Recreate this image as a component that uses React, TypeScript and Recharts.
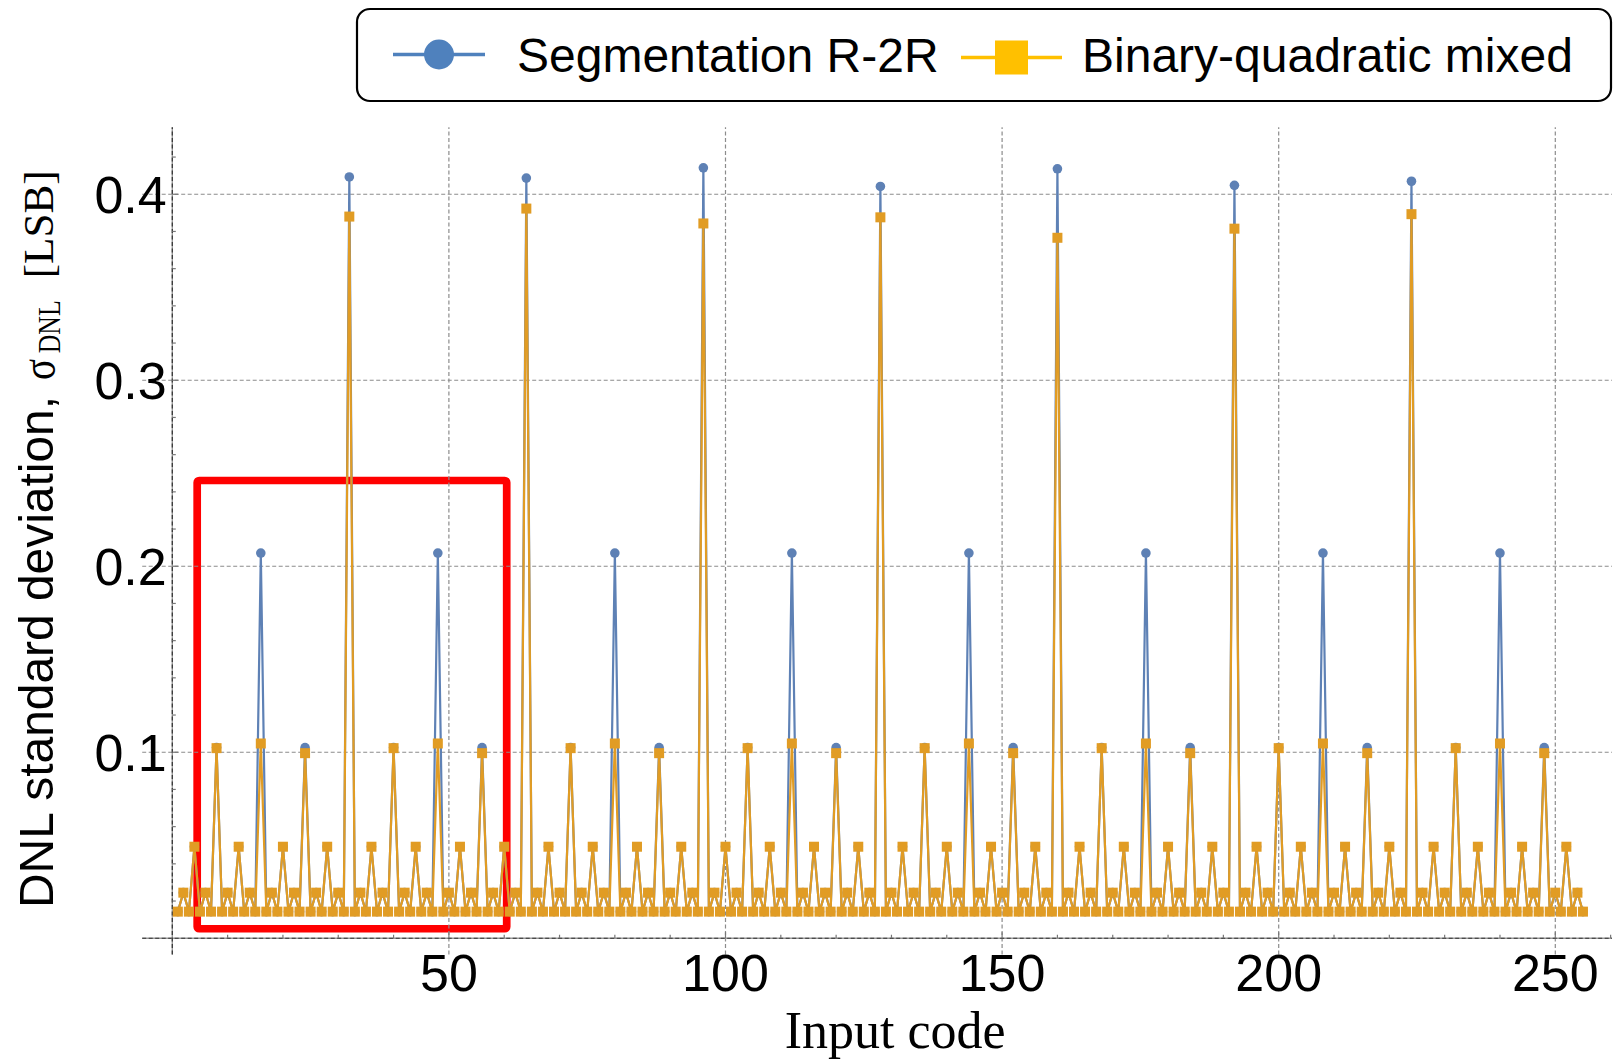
import React from 'react';
import {
    LineChart,
    Line,
    XAxis,
    YAxis,
    ReferenceLine,
    ReferenceArea,
    Legend,
} from 'recharts';

// sigma_DNL per input code 1..255
const SEGMENTATION_R2R = [
    0.0143, 0.0245, 0.0143, 0.0492, 0.0143, 0.0245, 0.0143, 0.1025, 0.0143, 0.0245, 0.0143, 0.0492, 0.0143, 0.0245, 0.0143, 0.2071,
    0.0143, 0.0245, 0.0143, 0.0492, 0.0143, 0.0245, 0.0143, 0.1025, 0.0143, 0.0245, 0.0143, 0.0492, 0.0143, 0.0245, 0.0143, 0.4093,
    0.0143, 0.0245, 0.0143, 0.0492, 0.0143, 0.0245, 0.0143, 0.1025, 0.0143, 0.0245, 0.0143, 0.0492, 0.0143, 0.0245, 0.0143, 0.2071,
    0.0143, 0.0245, 0.0143, 0.0492, 0.0143, 0.0245, 0.0143, 0.1025, 0.0143, 0.0245, 0.0143, 0.0492, 0.0143, 0.0245, 0.0143, 0.4087,
    0.0143, 0.0245, 0.0143, 0.0492, 0.0143, 0.0245, 0.0143, 0.1025, 0.0143, 0.0245, 0.0143, 0.0492, 0.0143, 0.0245, 0.0143, 0.2071,
    0.0143, 0.0245, 0.0143, 0.0492, 0.0143, 0.0245, 0.0143, 0.1025, 0.0143, 0.0245, 0.0143, 0.0492, 0.0143, 0.0245, 0.0143, 0.4142,
    0.0143, 0.0245, 0.0143, 0.0492, 0.0143, 0.0245, 0.0143, 0.1025, 0.0143, 0.0245, 0.0143, 0.0492, 0.0143, 0.0245, 0.0143, 0.2071,
    0.0143, 0.0245, 0.0143, 0.0492, 0.0143, 0.0245, 0.0143, 0.1025, 0.0143, 0.0245, 0.0143, 0.0492, 0.0143, 0.0245, 0.0143, 0.4042,
    0.0143, 0.0245, 0.0143, 0.0492, 0.0143, 0.0245, 0.0143, 0.1025, 0.0143, 0.0245, 0.0143, 0.0492, 0.0143, 0.0245, 0.0143, 0.2071,
    0.0143, 0.0245, 0.0143, 0.0492, 0.0143, 0.0245, 0.0143, 0.1025, 0.0143, 0.0245, 0.0143, 0.0492, 0.0143, 0.0245, 0.0143, 0.4137,
    0.0143, 0.0245, 0.0143, 0.0492, 0.0143, 0.0245, 0.0143, 0.1025, 0.0143, 0.0245, 0.0143, 0.0492, 0.0143, 0.0245, 0.0143, 0.2071,
    0.0143, 0.0245, 0.0143, 0.0492, 0.0143, 0.0245, 0.0143, 0.1025, 0.0143, 0.0245, 0.0143, 0.0492, 0.0143, 0.0245, 0.0143, 0.4048,
    0.0143, 0.0245, 0.0143, 0.0492, 0.0143, 0.0245, 0.0143, 0.1025, 0.0143, 0.0245, 0.0143, 0.0492, 0.0143, 0.0245, 0.0143, 0.2071,
    0.0143, 0.0245, 0.0143, 0.0492, 0.0143, 0.0245, 0.0143, 0.1025, 0.0143, 0.0245, 0.0143, 0.0492, 0.0143, 0.0245, 0.0143, 0.4070,
    0.0143, 0.0245, 0.0143, 0.0492, 0.0143, 0.0245, 0.0143, 0.1025, 0.0143, 0.0245, 0.0143, 0.0492, 0.0143, 0.0245, 0.0143, 0.2071,
    0.0143, 0.0245, 0.0143, 0.0492, 0.0143, 0.0245, 0.0143, 0.1025, 0.0143, 0.0245, 0.0143, 0.0492, 0.0143, 0.0245, 0.0143,
];

const BINARY_QUADRATIC = [
    0.0143, 0.0245, 0.0143, 0.0492, 0.0143, 0.0245, 0.0143, 0.1022, 0.0143, 0.0245, 0.0143, 0.0492, 0.0143, 0.0245, 0.0143, 0.1047,
    0.0143, 0.0245, 0.0143, 0.0492, 0.0143, 0.0245, 0.0143, 0.0995, 0.0143, 0.0245, 0.0143, 0.0492, 0.0143, 0.0245, 0.0143, 0.3880,
    0.0143, 0.0245, 0.0143, 0.0492, 0.0143, 0.0245, 0.0143, 0.1022, 0.0143, 0.0245, 0.0143, 0.0492, 0.0143, 0.0245, 0.0143, 0.1047,
    0.0143, 0.0245, 0.0143, 0.0492, 0.0143, 0.0245, 0.0143, 0.0995, 0.0143, 0.0245, 0.0143, 0.0492, 0.0143, 0.0245, 0.0143, 0.3923,
    0.0143, 0.0245, 0.0143, 0.0492, 0.0143, 0.0245, 0.0143, 0.1022, 0.0143, 0.0245, 0.0143, 0.0492, 0.0143, 0.0245, 0.0143, 0.1047,
    0.0143, 0.0245, 0.0143, 0.0492, 0.0143, 0.0245, 0.0143, 0.0995, 0.0143, 0.0245, 0.0143, 0.0492, 0.0143, 0.0245, 0.0143, 0.3843,
    0.0143, 0.0245, 0.0143, 0.0492, 0.0143, 0.0245, 0.0143, 0.1022, 0.0143, 0.0245, 0.0143, 0.0492, 0.0143, 0.0245, 0.0143, 0.1047,
    0.0143, 0.0245, 0.0143, 0.0492, 0.0143, 0.0245, 0.0143, 0.0995, 0.0143, 0.0245, 0.0143, 0.0492, 0.0143, 0.0245, 0.0143, 0.3876,
    0.0143, 0.0245, 0.0143, 0.0492, 0.0143, 0.0245, 0.0143, 0.1022, 0.0143, 0.0245, 0.0143, 0.0492, 0.0143, 0.0245, 0.0143, 0.1047,
    0.0143, 0.0245, 0.0143, 0.0492, 0.0143, 0.0245, 0.0143, 0.0995, 0.0143, 0.0245, 0.0143, 0.0492, 0.0143, 0.0245, 0.0143, 0.3766,
    0.0143, 0.0245, 0.0143, 0.0492, 0.0143, 0.0245, 0.0143, 0.1022, 0.0143, 0.0245, 0.0143, 0.0492, 0.0143, 0.0245, 0.0143, 0.1047,
    0.0143, 0.0245, 0.0143, 0.0492, 0.0143, 0.0245, 0.0143, 0.0995, 0.0143, 0.0245, 0.0143, 0.0492, 0.0143, 0.0245, 0.0143, 0.3815,
    0.0143, 0.0245, 0.0143, 0.0492, 0.0143, 0.0245, 0.0143, 0.1022, 0.0143, 0.0245, 0.0143, 0.0492, 0.0143, 0.0245, 0.0143, 0.1047,
    0.0143, 0.0245, 0.0143, 0.0492, 0.0143, 0.0245, 0.0143, 0.0995, 0.0143, 0.0245, 0.0143, 0.0492, 0.0143, 0.0245, 0.0143, 0.3893,
    0.0143, 0.0245, 0.0143, 0.0492, 0.0143, 0.0245, 0.0143, 0.1022, 0.0143, 0.0245, 0.0143, 0.0492, 0.0143, 0.0245, 0.0143, 0.1047,
    0.0143, 0.0245, 0.0143, 0.0492, 0.0143, 0.0245, 0.0143, 0.0995, 0.0143, 0.0245, 0.0143, 0.0492, 0.0143, 0.0245, 0.0143,
];

const SERIES_NAMES = ['Segmentation R-2R', 'Binary-quadratic mixed'];

const X_TICKS = [10, 20, 30, 40, 50, 60, 70, 80, 90, 100, 110, 120, 130, 140, 150, 160, 170, 180, 190, 200, 210, 220, 230, 240, 250, 260];
const X_LABELS = [50, 100, 150, 200, 250];
const Y_TICKS = [0.02, 0.04, 0.06, 0.08, 0.1, 0.12, 0.14, 0.16, 0.18, 0.2, 0.22, 0.24, 0.26, 0.28, 0.3, 0.32, 0.34, 0.36, 0.38, 0.4, 0.42];
const Y_LABELS = [0.1, 0.2, 0.3, 0.4];
const X_GRID = [50, 100, 150, 200, 250];
const Y_GRID = [0.1, 0.2, 0.3, 0.4];

// highlighted region (red box)
const HIGHLIGHT = { x1: 4.5, x2: 60.45, y1: 0.0051, y2: 0.2461 };

const X_MIN = -5.44;
const X_MAX = 260.25;
const Y_MIN = -0.0088;
const Y_MAX = 0.436;

const CHART_W = 1615;
const CHART_H = 1061;
const TOP = 127.3;
const RIGHT = 3;
const XAXIS_H = 106.4;
const YAXIS_W = 142.2;
const PLOT_W = CHART_W - YAXIS_W - RIGHT;
const PLOT_H = CHART_H - TOP - XAXIS_H;
// distance from plot edge to the zero line of each axis
const ZERO_DY = ((0 - Y_MIN) / (Y_MAX - Y_MIN)) * PLOT_H;
const ZERO_DX = ((0 - X_MIN) / (X_MAX - X_MIN)) * PLOT_W;

const BLUE = '#5E81B5';
const ORANGE = '#E19C24';
const GRID = '#8c8c8c';
const SANS = '"Liberation Sans", Arial, sans-serif';
const SERIF = '"Liberation Serif", "Times New Roman", serif';

const data = SEGMENTATION_R2R.map((v, i) => ({
    code: i + 1,
    seg: v,
    bq: BINARY_QUADRATIC[i],
}));

const XTick = (props: any) => {
    const { x, y, payload } = props;
    const y0 = y - ZERO_DY;
    const major = X_LABELS.includes(payload.value);
    return (
        <g>
            <line x1={x} x2={x} y1={y0} y2={y0 - (major ? 6 : 3.5)} stroke="#777" strokeWidth={1.2} />
            {major && (
                <text x={x} y={y0 + 52.4} textAnchor="middle" fontSize={52} fontFamily={SANS} fill="#000">
                    {payload.value}
                </text>
            )}
        </g>
    );
};

const YTick = (props: any) => {
    const { x, y, payload } = props;
    const x0 = x + ZERO_DX;
    const major = Y_LABELS.includes(payload.value);
    return (
        <g>
            <line x1={x0} x2={x0 + (major ? 6 : 3.5)} y1={y} y2={y} stroke="#777" strokeWidth={1.2} />
            {major && (
                <text x={x0 - 5.6} y={y + 18.5} textAnchor="end" fontSize={52} fontFamily={SANS} fill="#000">
                    {String(payload.value)}
                </text>
            )}
        </g>
    );
};

const CircleDot = (props: any) => {
    const { cx, cy } = props;
    if (cx == null || cy == null) return null;
    return <circle cx={cx} cy={cy} r={4.8} fill={BLUE} />;
};

const SquareDot = (props: any) => {
    const { cx, cy } = props;
    if (cx == null || cy == null) return null;
    return <rect x={cx - 5} y={cy - 5} width={10} height={10} fill={ORANGE} />;
};

const XTitle = (props: any) => {
    const vb = props.viewBox;
    return (
        <text x={vb.x + vb.width / 2 + 18} y={vb.y + 93} textAnchor="middle" fontSize={52} fontFamily={SERIF} fill="#000">
            Input code
        </text>
    );
};

// rotated title, each piece placed along the axis (distance up from the plot bottom)
const YTitle = (props: any) => {
    const vb = props.viewBox;
    const bottom = vb.y + vb.height;
    const piece = (d: number, bx: number, len: number, font: string, size: number, text: string) => (
        <text
            transform={`translate(${vb.x + bx},${bottom - d}) rotate(-90)`}
            x={0}
            y={0}
            fontFamily={font}
            fontSize={size}
            textLength={len}
            lengthAdjust="spacingAndGlyphs"
            fill="#000"
        >
            {text}
        </text>
    );
    return (
        <g>
            {piece(46.6, 53.3, 512, SANS, 49, 'DNL standard deviation,')}
            {piece(574.6, 55, 21, SERIF, 48, 'σ')}
            {piece(601.3, 60, 53, SERIF, 31, 'DNL')}
            {piece(676.3, 52.5, 108, SERIF, 43, '[LSB]')}
        </g>
    );
};

const LegendBox = () => (
    <svg width={1260} height={96} style={{ display: 'block' }}>
        <rect x={2} y={2} width={1254} height={92} rx={13} fill="#fff" stroke="#000" strokeWidth={2.2} />
        <line x1={38} x2={130} y1={47.5} y2={47.5} stroke="#4F81BD" strokeWidth={3.3} />
        <circle cx={84} cy={47.5} r={15} fill="#4F81BD" />
        <text x={162} y={64.5} fontSize={48} fontFamily={SANS} fill="#000">
            {SERIES_NAMES[0]}
        </text>
        <line x1={606} x2={707} y1={50.5} y2={50.5} stroke="#FFC000" strokeWidth={3.3} />
        <rect x={640} y={33.5} width={33} height={34} fill="#FFC000" />
        <text x={727} y={64.5} fontSize={48} fontFamily={SANS} fill="#000">
            {SERIES_NAMES[1]}
        </text>
    </svg>
);

export default function App() {
    return (
        <div style={{ position: 'absolute', left: 0, top: 0, background: '#fff' }}>
            <LineChart
                width={CHART_W}
                height={CHART_H}
                data={data}
                margin={{ top: TOP, right: RIGHT, left: 0, bottom: 0 }}
            >
                <XAxis
                    dataKey="code"
                    type="number"
                    domain={[X_MIN, X_MAX]}
                    allowDataOverflow
                    ticks={X_TICKS}
                    interval={0}
                    tick={<XTick />}
                    tickLine={false}
                    axisLine={false}
                    tickSize={0}
                    tickMargin={0}
                    height={XAXIS_H}
                    label={<XTitle />}
                />
                <YAxis
                    type="number"
                    domain={[Y_MIN, Y_MAX]}
                    allowDataOverflow
                    ticks={Y_TICKS}
                    interval={0}
                    tick={<YTick />}
                    tickLine={false}
                    axisLine={false}
                    tickSize={0}
                    tickMargin={0}
                    width={YAXIS_W}
                    label={<YTitle />}
                />
                {X_GRID.map((v) => (
                    <ReferenceLine key={`gx${v}`} x={v} stroke={GRID} strokeWidth={1.2} strokeDasharray="4 2.5" />
                ))}
                {Y_GRID.map((v) => (
                    <ReferenceLine key={`gy${v}`} y={v} stroke={GRID} strokeWidth={1.2} strokeDasharray="4 2.5" />
                ))}
                <ReferenceLine y={0} stroke="#9a9a9a" strokeWidth={1.4} />
                <ReferenceLine y={0} stroke="#333" strokeWidth={1.2} strokeDasharray="4 2.5" />
                <ReferenceLine x={0} stroke="#9a9a9a" strokeWidth={1.4} />
                <ReferenceLine x={0} stroke="#333" strokeWidth={1.2} strokeDasharray="4 2.5" />
                <Line
                    name={SERIES_NAMES[0]}
                    dataKey="seg"
                    stroke={BLUE}
                    strokeWidth={2.2}
                    dot={<CircleDot />}
                    activeDot={false}
                    isAnimationActive={false}
                    type="linear"
                />
                <Line
                    name={SERIES_NAMES[1]}
                    dataKey="bq"
                    stroke={ORANGE}
                    strokeWidth={2.2}
                    dot={<SquareDot />}
                    activeDot={false}
                    isAnimationActive={false}
                    type="linear"
                />
                <ReferenceArea
                    x1={HIGHLIGHT.x1}
                    x2={HIGHLIGHT.x2}
                    y1={HIGHLIGHT.y1}
                    y2={HIGHLIGHT.y2}
                    fill="none"
                    fillOpacity={0}
                    stroke="#FF0000"
                    strokeWidth={7.7}
                    radius={2}
                    ifOverflow="visible"
                />
                <Legend
                    layout="vertical"
                    align="center"
                    verticalAlign="middle"
                    content={<LegendBox />}
                    wrapperStyle={{ top: 7, left: 355, width: 1260, height: 96, bottom: 'auto', right: 'auto' }}
                />
            </LineChart>
        </div>
    );
}
